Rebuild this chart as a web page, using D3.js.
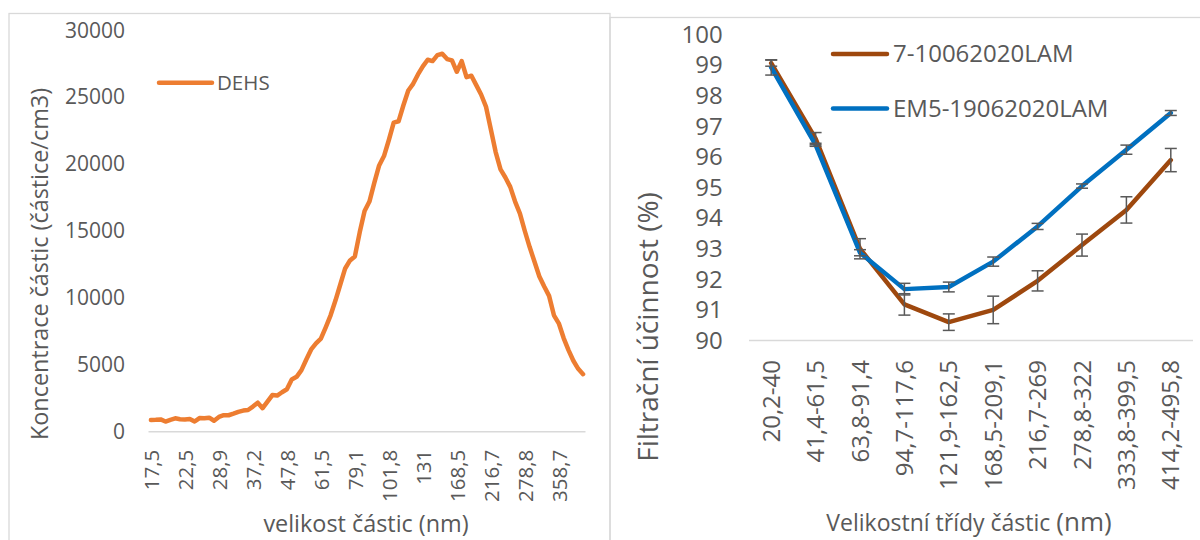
<!DOCTYPE html>
<html>
<head>
<meta charset="utf-8">
<script src="https://cdn.jsdelivr.net/npm/d3@7"></script>
<style>
  html, body { margin: 0; padding: 0; background: #ffffff; }
  svg { display: block; }
  text { font-family: "Open Sans", "Noto Sans", sans-serif; fill: #595959; }
</style>
</head>
<body>
<svg id="chart" width="1200" height="540"></svg>
<script>
// ---------- Left chart data ----------
const sizeCategories = ["17,5","18,1","18,8","19,5","20,2","20,9","21,7","22,5","23,3","24,1","25","25,9","26,9","27,9","28,9","30","31,1","32,2","33,4","34,6","35,9","37,2","38,5","40","41,4","42,9","44,5","46,1","47,8","49,6","51,4","53,3","55,2","57,3","59,4","61,5","63,8","66,1","68,5","71","73,7","76,4","79,1","82","85,1","88,2","91,4","94,7","98,2","101,8","105,5","109,4","113,4","117,6","121,9","126,3","131","135,8","140,7","145,9","151,2","156,8","162,5","168,5","174,7","181,1","187,7","194,6","201,7","209,1","216,7","224,7","232,9","241,4","250,3","259,5","269","278,8","289","299,6","310,6","322","333,8","346","358,7","371,8","385,4","399,5","414,2","429,4"];
const dehsValues = [870,890,920,760,890,1000,930,920,950,760,
  1020,1000,1050,820,1100,1230,1230,1350,1480,1580,
  1620,1880,2170,1760,2250,2740,2700,2950,3170,3900,
  4100,4600,5400,6150,6600,6950,7800,8700,9800,11000,
  12200,12800,13100,14900,16500,17200,18600,19900,20600,21800,
  23100,23200,24400,25500,26000,26700,27300,27800,27700,28150,
  28250,27850,27750,26900,27700,26500,26600,25900,25200,24300,
  22600,20900,19600,19000,18300,17200,16300,15000,13800,12700,
  11600,10850,10150,8700,8100,7000,6100,5300,4700,4300];
const leftYTicks = [0,5000,10000,15000,20000,25000,30000];
const leftSeriesName = "DEHS";

// ---------- Right chart data ----------
const classCategories = ["20,2-40","41,4-61,5","63,8-91,4","94,7-117,6","121,9-162,5","168,5-209,1","216,7-269","278,8-322","333,8-399,5","414,2-495,8"];
const seriesAName = "7-10062020LAM";
const seriesAValues = [99.07, 96.6, 93.0, 91.18, 90.6, 91.0, 91.95, 93.12, 94.27, 95.9];
const seriesAErrors = [0.10, 0.20, 0.33, 0.35, 0.27, 0.45, 0.33, 0.36, 0.43, 0.38];
const seriesBName = "EM5-19062020LAM";
const seriesBValues = [98.93, 96.4, 92.87, 91.68, 91.75, 92.58, 93.73, 95.05, 96.24, 97.44];
const seriesBErrors = [0.25, 0.05, 0.10, 0.19, 0.16, 0.15, 0.10, 0.07, 0.15, 0.08];
const rightYTicks = [90,91,92,93,94,95,96,97,98,99,100];

const svg = d3.select("#chart");
const grey = "#595959";
const borderCol = "#d9d9d9";

// chart borders
svg.append("rect").attr("x", 9).attr("y", 13.5).attr("width", 601).attr("height", 600)
  .attr("fill", "none").attr("stroke", borderCol).attr("stroke-width", 1.3);
svg.append("rect").attr("x", 610).attr("y", 17.5).attr("width", 620).attr("height", 600)
  .attr("fill", "none").attr("stroke", borderCol).attr("stroke-width", 1.3);

// ================= LEFT CHART =================
const L = svg.append("g");
const xL = d3.scaleBand().domain(sizeCategories).range([148.5, 585.5]).padding(0);
const yL = d3.scaleLinear().domain([0, 30000]).range([431.7, 30.3]);

L.append("line").attr("x1", xL.range()[0]).attr("x2", xL.range()[1])
  .attr("y1", yL(0)).attr("y2", yL(0)).attr("stroke", borderCol).attr("stroke-width", 1.5);

const yAxisL = L.append("g").attr("transform", `translate(${xL.range()[0]},0)`)
  .call(d3.axisLeft(yL).tickValues(leftYTicks).tickFormat(d3.format("d")).tickSize(0).tickPadding(23.5));
yAxisL.select(".domain").remove();
yAxisL.selectAll("text").style("font-size", "21px").attr("fill", grey).attr("font-family", null);

const xAxisL = L.append("g").attr("transform", `translate(0,${yL(0)})`)
  .call(d3.axisBottom(xL).tickValues(sizeCategories.filter((d, i) => i % 7 === 0)).tickSize(0));
xAxisL.select(".domain").remove();
xAxisL.selectAll("text")
  .style("font-size", "20.5px").attr("fill", grey).attr("font-family", null)
  .attr("text-anchor", "end")
  .attr("transform", "translate(0,18) rotate(-90)")
  .attr("x", 0).attr("y", 0).attr("dy", "0.4em");

const lineL = d3.line().x((d, i) => xL(sizeCategories[i]) + xL.bandwidth() / 2).y(d => yL(d));
L.append("path").datum(dehsValues).attr("d", lineL)
  .attr("fill", "none").attr("stroke", "#ED7D31").attr("stroke-width", 4.5)
  .attr("stroke-linejoin", "round").attr("stroke-linecap", "round");

L.append("line").attr("x1", 159).attr("x2", 212).attr("y1", 82.8).attr("y2", 82.8)
  .attr("stroke", "#ED7D31").attr("stroke-width", 4.5).attr("stroke-linecap", "round");
L.append("text").attr("x", 217).attr("y", 82.8).attr("dy", "0.35em")
  .style("font-size", "20.5px").text(leftSeriesName);

L.append("text").attr("transform", "translate(48,264) rotate(-90)")
  .attr("text-anchor", "middle").style("font-size", "23.4px")
  .text("Koncentrace částic (částice/cm3)");
L.append("text").attr("x", 366).attr("y", 532).attr("text-anchor", "middle")
  .style("font-size", "23.4px").text("velikost částic (nm)");

// ================= RIGHT CHART =================
const R = svg.append("g");
const xR = d3.scaleBand().domain(classCategories).range([749, 1193]).padding(0);
const yR = d3.scaleLinear().domain([90, 100]).range([340.5, 34.7]);
const cx = i => xR(classCategories[i]) + xR.bandwidth() / 2;

R.append("line").attr("x1", xR.range()[0]).attr("x2", xR.range()[1])
  .attr("y1", yR(90)).attr("y2", yR(90)).attr("stroke", borderCol).attr("stroke-width", 1.5);

const yAxisR = R.append("g").attr("transform", `translate(${xR.range()[0]},0)`)
  .call(d3.axisLeft(yR).tickValues(rightYTicks).tickFormat(d3.format("d")).tickSize(0).tickPadding(26.3));
yAxisR.select(".domain").remove();
yAxisR.selectAll("text").style("font-size", "24px").attr("fill", grey).attr("font-family", null);

const xAxisR = R.append("g").attr("transform", `translate(0,${yR(90)})`)
  .call(d3.axisBottom(xR).tickSize(0));
xAxisR.select(".domain").remove();
xAxisR.selectAll("text")
  .style("font-size", "24px").attr("fill", grey).attr("font-family", null)
  .attr("text-anchor", "end")
  .attr("transform", "translate(0,19.5) rotate(-90)")
  .attr("x", 0).attr("y", 0).attr("dy", "0.36em");

const lineR = d3.line().x((d, i) => cx(i)).y(d => yR(d));
const seriesList = [
  {name: seriesAName, values: seriesAValues, errors: seriesAErrors, color: "#9E480E"},
  {name: seriesBName, values: seriesBValues, errors: seriesBErrors, color: "#0070C0"}
];
seriesList.forEach(s => {
  R.append("path").datum(s.values).attr("d", lineR)
    .attr("fill", "none").attr("stroke", s.color).attr("stroke-width", 4.5)
    .attr("stroke-linejoin", "round").attr("stroke-linecap", "round");
});
seriesList.forEach(s => {
  const g = R.append("g").attr("stroke", grey).attr("stroke-width", 1.5);
  s.values.forEach((v, i) => {
    const x = cx(i), y1 = yR(v + s.errors[i]), y2 = yR(v - s.errors[i]);
    g.append("line").attr("x1", x).attr("x2", x).attr("y1", y1).attr("y2", y2);
    g.append("line").attr("x1", x - 6).attr("x2", x + 6).attr("y1", y1).attr("y2", y1);
    g.append("line").attr("x1", x - 6).attr("x2", x + 6).attr("y1", y2).attr("y2", y2);
  });
});

seriesList.forEach((s, k) => {
  const y = 54 + k * 54.5;
  R.append("line").attr("x1", 833).attr("x2", 887).attr("y1", y).attr("y2", y)
    .attr("stroke", s.color).attr("stroke-width", 4.5).attr("stroke-linecap", "round");
  R.append("text").attr("x", 893).attr("y", y).attr("dy", "0.35em")
    .style("font-size", "24px").text(s.name);
});

R.append("text").attr("transform", "translate(658,327) rotate(-90)")
  .attr("text-anchor", "middle").style("font-size", "28px")
  .text("Filtrační účinnost (%)");
const xt = R.append("text").attr("x", 969).attr("y", 531).attr("text-anchor", "middle")
  .style("font-size", "23px");
xt.append("tspan").text("Velikostní třídy částic ");
xt.append("tspan").style("font-size", "26px").text("(nm)");
</script>
</body>
</html>
